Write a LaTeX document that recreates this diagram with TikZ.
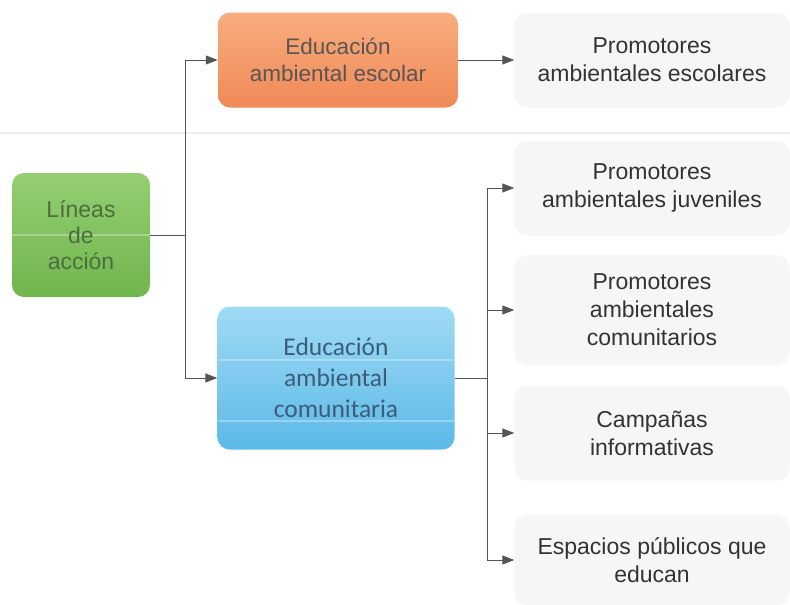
\documentclass[tikz,border=0pt]{standalone}
\usepackage{fontspec}
\setmainfont{Liberation Sans}
\newfontfamily\calibri{Carlito}
\usepackage{xcolor}
\usetikzlibrary{arrows.meta}

\definecolor{flecha}{HTML}{555555}
\definecolor{separa}{HTML}{EEEEEE}
\definecolor{hoja}{HTML}{F6F6F6}
\definecolor{txtverde}{HTML}{4A6E3E}
\definecolor{txtgris}{HTML}{5A5553}
\definecolor{txtazul}{HTML}{3C5C78}
\definecolor{verdesup}{HTML}{94CE72}
\definecolor{verdeinf}{HTML}{70B64E}
\definecolor{narsup}{HTML}{F8AD7E}
\definecolor{narinf}{HTML}{F08957}
\definecolor{azulsup}{HTML}{A0DBF5}
\definecolor{azulinf}{HTML}{5CB9E8}

\tikzset{
  caja/.style={rounded corners=12pt, align=center, inner sep=2pt},
  hojacaja/.style={caja, fill=hoja, minimum width=275pt, font=\fontsize{23}{28}\selectfont, text=black!80},
  conector/.style={flecha, line width=1pt},
  brillo/.style={white, opacity=0.3, line width=1.5pt}
}

\begin{document}
\begin{tikzpicture}[x=1pt,y=-1pt]
\useasboundingbox (0,0) rectangle (790,605);
\begin{scope}[>={Triangle[length=12pt,width=9pt]}]

    % linea de fondo
    \draw[separa, line width=2pt] (0,133) -- (790,133);

    \node[caja, top color=verdesup, bottom color=verdeinf, minimum width=138pt, minimum height=124pt,
          font=\fontsize{23}{26}\selectfont, text=txtverde,
          path picture={\draw[brillo] (path picture bounding box.west) -- (path picture bounding box.east);}]
          (lineas) at (81,235) {Líneas\\de\\acción};
    \node[caja, top color=narsup, bottom color=narinf, minimum width=240pt, minimum height=95pt,
          font=\fontsize{22.5}{27}\selectfont, text=txtgris] (escolar) at (338,60) {Educación\\ambiental escolar};
    \node[caja, top color=azulsup, bottom color=azulinf, minimum width=237pt, minimum height=143pt,
          font=\calibri\fontsize{25.5}{31}\selectfont, text=txtazul,
          path picture={
            \draw[brillo] ([yshift=18pt]path picture bounding box.west) -- ([yshift=18pt]path picture bounding box.east);
            \draw[brillo] ([yshift=-43pt]path picture bounding box.west) -- ([yshift=-43pt]path picture bounding box.east);}]
          (comunit) at (336,378) {Educación\\ambiental\\comunitaria};

    \node[hojacaja, minimum height=95pt] (pesc) at (652,60) {Promotores\\ambientales escolares};
    \node[hojacaja, minimum height=95pt] (pjuv) at (652,188) {Promotores\\ambientales juveniles};
    \node[hojacaja, minimum height=110pt] (pcom) at (652,310) {Promotores\\ambientales\\comunitarios};
    \node[hojacaja, minimum height=95pt] (campa) at (652,433) {Campañas\\informativas};
    \node[hojacaja, minimum height=90pt] (espac) at (652,560) {Espacios públicos que\\educan};

    \coordinate (ramaA) at (185,235);
    \coordinate (ramaB) at (487,378);

    \draw[conector] (lineas.east) -- (ramaA);
    \draw[conector,->] (ramaA) |- (escolar.west);
    \draw[conector,->] (ramaA) |- (comunit.west);
    \draw[conector,->] (escolar.east) -- (pesc.west);

    \draw[conector] (comunit.east) -- (ramaB);
    \draw[conector,->] (ramaB) |- (pjuv.west);
    \draw[conector,->] (ramaB) |- (pcom.west);
    \draw[conector,->] (ramaB) |- (campa.west);
    \draw[conector,->] (ramaB) |- (espac.west);

\end{scope}
\end{tikzpicture}
\end{document}
